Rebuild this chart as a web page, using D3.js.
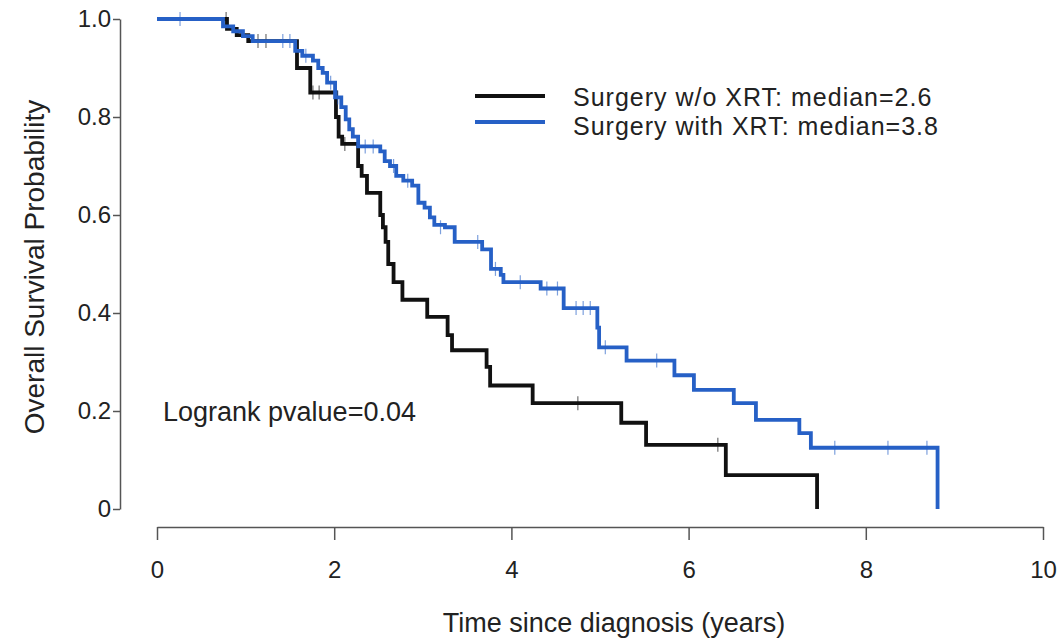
<!DOCTYPE html>
<html>
<head>
<meta charset="utf-8">
<script src="https://cdn.jsdelivr.net/npm/d3@7"></script>
<style>
  body { margin: 0; background: #fff; }
  text { font-family: "Liberation Sans", Arial, sans-serif; fill: #222; }
</style>
</head>
<body>
<div id="chart"></div>
<script>
// step points: time (years) and survival after the step
const noXrtTimes = [0, 0.79, 0.90, 1.03, 1.58, 1.73, 2.02, 2.05, 2.09, 2.27, 2.31, 2.37, 2.52, 2.55, 2.58, 2.61, 2.67, 2.77, 3.05, 3.28, 3.33, 3.72, 3.76, 4.24, 5.24, 5.52, 6.42, 7.45];
const noXrtSurv  = [1, 0.98, 0.967, 0.955, 0.90, 0.85, 0.80, 0.76, 0.745, 0.70, 0.68, 0.645, 0.60, 0.575, 0.545, 0.50, 0.463, 0.427, 0.392, 0.355, 0.324, 0.29, 0.252, 0.216, 0.176, 0.131, 0.069, 0];

const xrtTimes = [0, 0.745, 0.86, 0.97, 1.08, 1.56, 1.64, 1.76, 1.82, 1.87, 1.92, 2.01, 2.08, 2.13, 2.17, 2.21, 2.27, 2.52, 2.57, 2.63, 2.70, 2.78, 2.88, 2.95, 3.02, 3.08, 3.13, 3.25, 3.36, 3.67, 3.77, 3.88, 3.91, 4.33, 4.59, 4.97, 4.99, 5.30, 5.84, 6.06, 6.51, 6.76, 7.25, 7.38, 8.81];
const xrtSurv  = [1, 0.985, 0.975, 0.965, 0.955, 0.935, 0.925, 0.915, 0.90, 0.89, 0.87, 0.84, 0.82, 0.795, 0.775, 0.76, 0.74, 0.73, 0.71, 0.70, 0.68, 0.67, 0.66, 0.625, 0.615, 0.595, 0.58, 0.575, 0.545, 0.53, 0.49, 0.478, 0.463, 0.45, 0.41, 0.37, 0.33, 0.303, 0.273, 0.243, 0.216, 0.182, 0.155, 0.125, 0];

// censored observations
const noXrtCensT = [0.78, 1.14, 1.23, 1.76, 1.83, 2.12, 4.75, 6.33];
const noXrtCensS = [1, 0.955, 0.955, 0.85, 0.85, 0.745, 0.216, 0.131];
const xrtCensT = [0.26, 1.42, 1.50, 1.68, 1.96, 2.04, 2.35, 2.44, 2.67, 2.83, 3.20, 3.62, 3.82, 4.10, 4.40, 4.52, 4.73, 4.81, 4.89, 5.06, 5.64, 7.65, 8.25, 8.69];
const xrtCensS = [1, 0.955, 0.955, 0.925, 0.87, 0.84, 0.74, 0.74, 0.70, 0.67, 0.575, 0.545, 0.49, 0.463, 0.45, 0.45, 0.41, 0.41, 0.41, 0.33, 0.303, 0.125, 0.125, 0.125];

const xTicks = [0, 2, 4, 6, 8, 10];
const yTicks = [0, 0.2, 0.4, 0.6, 0.8, 1.0];

const groups = [
    { label: "Surgery w/o XRT: median=2.6", color: "#111111", t: noXrtTimes, s: noXrtSurv, ct: noXrtCensT, cs: noXrtCensS },
    { label: "Surgery with XRT: median=3.8", color: "#2660c6", t: xrtTimes, s: xrtSurv, ct: xrtCensT, cs: xrtCensS }
];

const width = 1064, height = 641;

const svg = d3.select("#chart").append("svg")
    .attr("width", width)
    .attr("height", height);

svg.append("rect").attr("width", width).attr("height", height).attr("fill", "#fff");

const x = d3.scaleLinear().domain([0, 10]).range([157, 1043]);
const y = d3.scaleLinear().domain([0, 1]).range([509, 19]);

// y axis
const yAxisG = svg.append("g")
    .attr("transform", "translate(120,0)")
    .call(d3.axisLeft(y)
        .tickValues(yTicks)
        .tickFormat(d => d === 0 ? "0" : d3.format(".1f")(d))
        .tickSize(7)
        .tickSizeOuter(0)
        .tickPadding(2));

// x axis
const xAxisG = svg.append("g")
    .attr("transform", "translate(0,527)")
    .call(d3.axisBottom(x)
        .tickValues(xTicks)
        .tickFormat(d3.format("d"))
        .tickSize(13)
        .tickSizeOuter(0)
        .tickPadding(21));

[yAxisG, xAxisG].forEach(g => {
    g.selectAll("path, line").attr("stroke", "#555").attr("stroke-width", 1.5);
    g.selectAll("text").style("font-size", "24px").attr("fill", "#222");
});

// axis titles
svg.append("text")
    .attr("x", 614)
    .attr("y", 632)
    .attr("text-anchor", "middle")
    .style("font-size", "27px")
    .text("Time since diagnosis (years)");

svg.append("text")
    .attr("transform", "translate(44,267) rotate(-90)")
    .attr("text-anchor", "middle")
    .style("font-size", "28px")
    .text("Overall Survival Probability");

// survival curves
const line = d3.line()
    .x(d => x(d[0]))
    .y(d => y(d[1]))
    .curve(d3.curveStepAfter);

groups.forEach(g => {
    const pts = g.t.map((t, i) => [t, g.s[i]]);
    svg.append("path")
        .datum(pts)
        .attr("fill", "none")
        .attr("stroke", g.color)
        .attr("stroke-width", 3.8)
        .attr("d", line);

    svg.append("g").selectAll("line")
        .data(g.ct.map((t, i) => [t, g.cs[i]]))
        .join("line")
        .attr("x1", d => x(d[0]))
        .attr("x2", d => x(d[0]))
        .attr("y1", d => y(d[1]) - 7)
        .attr("y2", d => y(d[1]) + 7)
        .attr("stroke", g.color)
        .attr("stroke-opacity", 0.6)
        .attr("stroke-width", 1.2);
});

// legend
const legend = svg.append("g");
groups.forEach((g, i) => {
    const ly = 96 + i * 26;
    legend.append("line")
        .attr("x1", 475).attr("x2", 545)
        .attr("y1", ly).attr("y2", ly)
        .attr("stroke", g.color)
        .attr("stroke-width", 4);
    legend.append("text")
        .attr("x", 573)
        .attr("y", 106 + i * 29)
        .style("font-size", "25px")
        .style("letter-spacing", "1px")
        .text(g.label);
});

svg.append("text")
    .attr("x", 163)
    .attr("y", 421)
    .style("font-size", "27px")
    .text("Logrank pvalue=0.04");
</script>
</body>
</html>
